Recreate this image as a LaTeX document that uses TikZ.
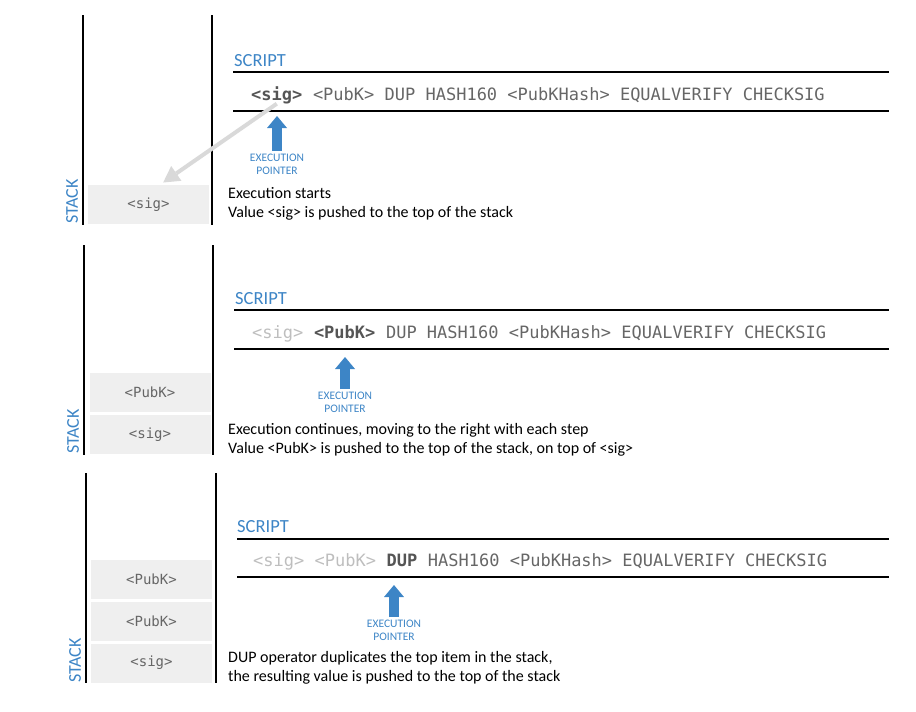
\documentclass[tikz,border=0pt]{standalone}
\usepackage{fontspec}
\setmainfont{Carlito}
\setmonofont{DejaVu Sans Mono}
\usetikzlibrary{arrows.meta,positioning}

\definecolor{scriptblue}{RGB}{61,133,198}
\definecolor{codegray}{RGB}{102,102,102}
\definecolor{nowgray}{RGB}{85,85,85}
\definecolor{fadegray}{RGB}{190,190,190}
\definecolor{cellfill}{RGB}{239,239,239}
\definecolor{pushgray}{RGB}{217,217,217}

\begin{document}
\begin{tikzpicture}[x=1pt,y=-1pt,node distance=10.23pt]

        \tikzstyle{wall}=[draw=black,line width=2pt]
        \tikzstyle{rule}=[draw=black,line width=1.8pt]
        \tikzstyle{cell}=[shape=rectangle,fill=cellfill,minimum width=121pt,minimum height=39pt,inner sep=0pt,text=codegray,font=\ttfamily\fontsize{14}{16}\selectfont]
        \tikzstyle{code}=[inner sep=0pt,text=codegray,font=\ttfamily\fontsize{17}{20}\selectfont]
        \tikzstyle{done}=[code,text=fadegray]
        \tikzstyle{now}=[code,text=nowgray,font=\ttfamily\bfseries\fontsize{17}{20}\selectfont]
        \tikzstyle{title}=[inner sep=0pt,anchor=west,text=scriptblue,font=\fontsize{18.5}{20}\selectfont]
        \tikzstyle{stacklbl}=[inner sep=0pt,anchor=west,rotate=90,text=scriptblue,font=\fontsize{18}{20}\selectfont]
        \tikzstyle{ptrlbl}=[inner sep=1pt,align=center,text=scriptblue,font=\fontsize{11.5}{13}\selectfont]
        \tikzstyle{ptr}=[draw=scriptblue,line width=10pt,shorten <=2pt,-{Triangle[length=12pt,width=20pt,line width=0pt]}]
        \tikzstyle{note}=[inner sep=0pt,anchor=west,align=left,font=\fontsize{16}{19}\selectfont]
        \tikzstyle{push}=[draw=pushgray,line width=4pt,shorten >=4pt,-{Triangle[length=16pt,width=18pt,line width=0pt]}]

        \useasboundingbox (0,0) rectangle (916,712);

        % step 1
        \draw[wall] (83,15) -- (83,225);
        \draw[wall] (212,15) -- (212,225);
        \node[cell] (A1) at (148.5,204.5) {<sig>};
        \node[stacklbl] (K1) at (72,224) {STACK};
        \node[title] (T1) at (234,61) {SCRIPT};
        \draw[rule] (233,72) -- (889,72);
        \draw[rule] (233,111) -- (889,111);
        \node[now,anchor=base west] (C1) at (251,100) {<sig>};
        \node[code] (D1) [base right=of C1] {<PubK> DUP HASH160 <PubKHash> EQUALVERIFY CHECKSIG};
        \node[ptrlbl] (E1) at (277,164.5) {EXECUTION\\POINTER};
        \coordinate (F1) at (277,116);
        \node[note] (G1) at (228,203.5) {Execution starts\\Value <sig> is pushed to the top of the stack};
        \path [ptr] (E1.north) -- (F1);
        \path [push] (C1.south) -- (A1.60);

        % step 2
        \draw[wall] (84,245) -- (84,455);
        \draw[wall] (213,245) -- (213,455);
        \node[cell] (A2) at (150,392.5) {<PubK>};
        \node[cell] (B2) at (150,434.5) {<sig>};
        \node[stacklbl] (K2) at (73,454) {STACK};
        \node[title] (T2) at (235,299) {SCRIPT};
        \draw[rule] (234,310) -- (889,310);
        \draw[rule] (234,349) -- (889,349);
        \node[done,anchor=base west] (C2) at (252,338) {<sig>};
        \node[now] (D2) [base right=of C2] {<PubK>};
        \node[code] (H2) [base right=of D2] {DUP HASH160 <PubKHash> EQUALVERIFY CHECKSIG};
        \node[ptrlbl] (E2) at (345,402.5) {EXECUTION\\POINTER};
        \coordinate (F2) at (345,357);
        \node[note] (G2) at (228,440) {Execution continues, moving to the right with each step\\Value <PubK> is pushed to the top of the stack, on top of <sig>};
        \path [ptr] (E2.north) -- (F2);

        % step 3
        \draw[wall] (86,473) -- (86,683);
        \draw[wall] (215.5,473) -- (215.5,683);
        \node[cell] (A3) at (151.5,579) {<PubK>};
        \node[cell] (B3) at (151.5,621.5) {<PubK>};
        \node[cell] (C3) at (151.5,663) {<sig>};
        \node[stacklbl] (K3) at (75,683) {STACK};
        \node[title] (T3) at (237,527) {SCRIPT};
        \draw[rule] (237,539) -- (889,539);
        \draw[rule] (237,577) -- (889,577);
        \node[done,anchor=base west] (D3) at (253,566.5) {<sig> <PubK>};
        \node[now] (H3) [base right=of D3] {DUP};
        \node[code] (I3) [base right=of H3] {HASH160 <PubKHash> EQUALVERIFY CHECKSIG};
        \node[ptrlbl] (E3) at (394,630.5) {EXECUTION\\POINTER};
        \coordinate (F3) at (394,585);
        \node[note] (G3) at (228,668) {DUP operator duplicates the top item in the stack,\\the resulting value is pushed to the top of the stack};
        \path [ptr] (E3.north) -- (F3);

\end{tikzpicture}
\end{document}
